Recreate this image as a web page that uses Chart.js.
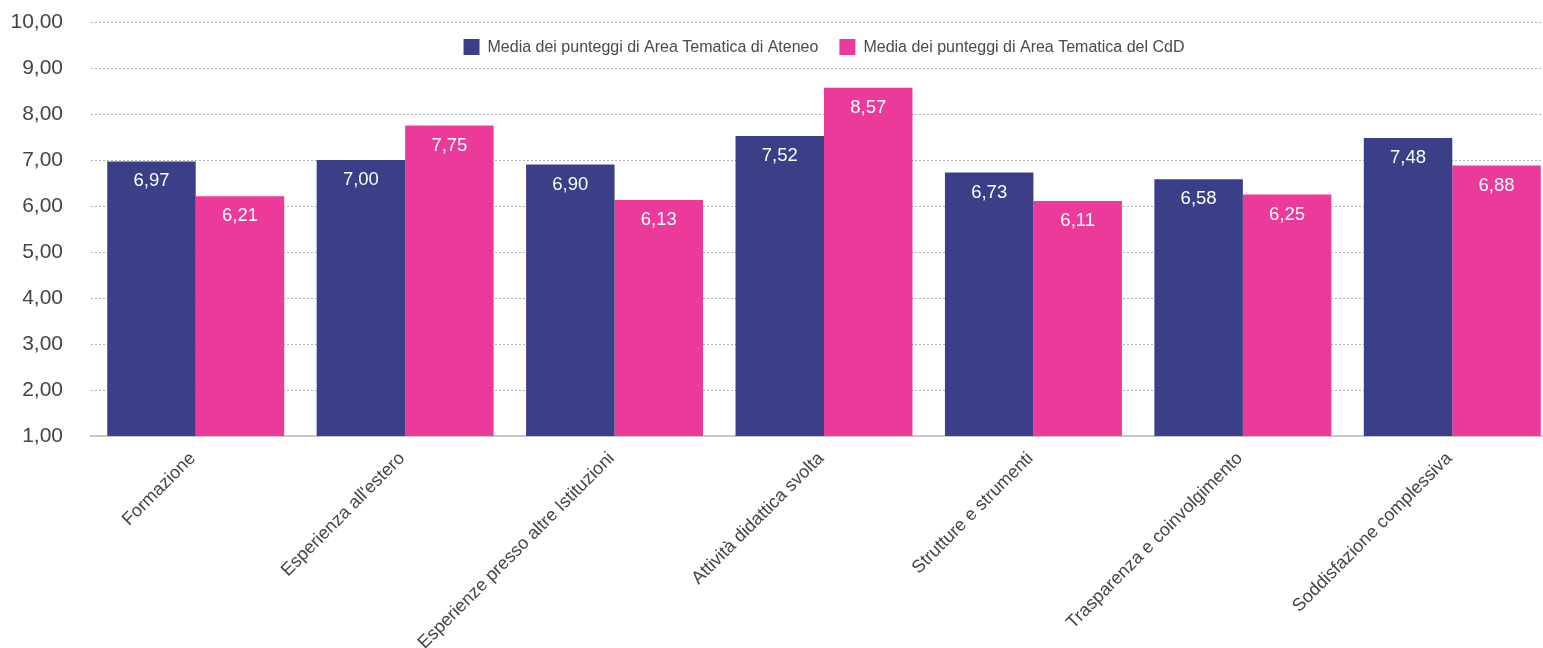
<!DOCTYPE html>
<html>
<head>
<meta charset="utf-8">
<script src="https://cdn.jsdelivr.net/npm/chart.js@4.4.1/dist/chart.umd.min.js"></script>
<style>
  html, body { margin: 0; padding: 0; background: #fff; overflow: hidden; }
  #wrap { width: 1560px; height: 648px; }
</style>
</head>
<body>
<div id="wrap"><canvas id="chart" width="1560" height="648"></canvas></div>
<script>
// Thematic areas on the x axis
const categories = [
  'Formazione',
  "Esperienza all'estero",
  'Esperienze presso altre Istituzioni',
  'Attività didattica svolta',
  'Strutture e strumenti',
  'Trasparenza e coinvolgimento',
  'Soddisfazione complessiva'
];

// Average scores per thematic area
const ateneoValues = [6.97, 7.00, 6.90, 7.52, 6.73, 6.58, 7.48];
const cddValues    = [6.21, 7.75, 6.13, 8.57, 6.11, 6.25, 6.88];

const seriesLabels = [
  'Media dei punteggi di Area Tematica di Ateneo',
  'Media dei punteggi di Area Tematica del CdD'
];
const seriesColors = ['#3a3f88', '#ec3a9b'];

// Value axis range
const yMin = 1;
const yMax = 10;
const yStep = 1;

const FONT = '"Liberation Sans", Arial, Helvetica, sans-serif';
const fmt = v => Number(v).toFixed(2).replace('.', ',');

// White value labels inside the top of each bar
const valueLabels = {
  id: 'valueLabels',
  afterDatasetsDraw(chart) {
    const ctx = chart.ctx;
    ctx.save();
    ctx.font = '18.5px ' + FONT;
    ctx.fillStyle = '#ffffff';
    ctx.textAlign = 'center';
    ctx.textBaseline = 'middle';
    chart.data.datasets.forEach((ds, i) => {
      chart.getDatasetMeta(i).data.forEach((bar, j) => {
        ctx.fillText(fmt(ds.data[j]), bar.x, bar.y + 20);
      });
    });
    ctx.restore();
  }
};

// Legend drawn inside the plot, between the two top grid lines
const innerLegend = {
  id: 'innerLegend',
  afterDraw(chart) {
    const ctx = chart.ctx;
    const box = 16, gapText = 8, gapItem = 21, cy = 47;
    ctx.save();
    ctx.font = '16px ' + FONT;
    const items = chart.data.datasets.map(ds => ({
      label: ds.label,
      color: ds.backgroundColor,
      w: box + gapText + ctx.measureText(ds.label).width
    }));
    const total = items.reduce((a, it) => a + it.w, 0) + gapItem * (items.length - 1);
    let x = (chart.chartArea.left + chart.chartArea.right) / 2 - total / 2;
    ctx.textAlign = 'left';
    ctx.textBaseline = 'middle';
    items.forEach(it => {
      ctx.fillStyle = it.color;
      ctx.fillRect(x, cy - box / 2, box, box);
      ctx.fillStyle = '#4a4a4a';
      ctx.fillText(it.label, x + box + gapText, cy + 1);
      x += it.w + gapItem;
    });
    ctx.restore();
  }
};

new Chart(document.getElementById('chart'), {
  type: 'bar',
  data: {
    labels: categories,
    datasets: [
      { label: seriesLabels[0], data: ateneoValues, backgroundColor: seriesColors[0] },
      { label: seriesLabels[1], data: cddValues, backgroundColor: seriesColors[1] }
    ]
  },
  options: {
    responsive: false,
    animation: false,
    devicePixelRatio: 1,
    layout: { padding: { top: 22, right: 3, left: 0, bottom: 0 } },
    datasets: { bar: { categoryPercentage: 0.845, barPercentage: 1.0 } },
    plugins: {
      legend: { display: false },
      tooltip: { enabled: false }
    },
    scales: {
      x: {
        grid: { display: false },
        border: { display: true, color: '#c8c8c8', width: 2 },
        ticks: {
          color: '#444',
          font: { size: 18, family: FONT },
          minRotation: 45,
          maxRotation: 45,
          autoSkip: false,
          padding: 4,
          labelOffset: -3
        },
        afterFit(scale) {
          scale.height = 212;
          scale.paddingLeft = 0;
          scale.paddingRight = 0;
        }
      },
      y: {
        min: yMin,
        max: yMax,
        ticks: {
          stepSize: yStep,
          callback: v => fmt(v),
          color: '#444',
          font: { size: 21, family: FONT },
          padding: 28
        },
        grid: {
          drawTicks: false,
          lineWidth: 1,
          color: c => (c.tick && c.tick.value === yMin) ? 'rgba(0,0,0,0)' : '#b0b0b0'
        },
        border: { display: false, dash: [2, 2] },
        afterFit(scale) {
          scale.width = 91;
          scale.paddingTop = 0;
          scale.paddingBottom = 0;
        }
      }
    }
  },
  plugins: [valueLabels, innerLegend]
});
</script>
</body>
</html>
